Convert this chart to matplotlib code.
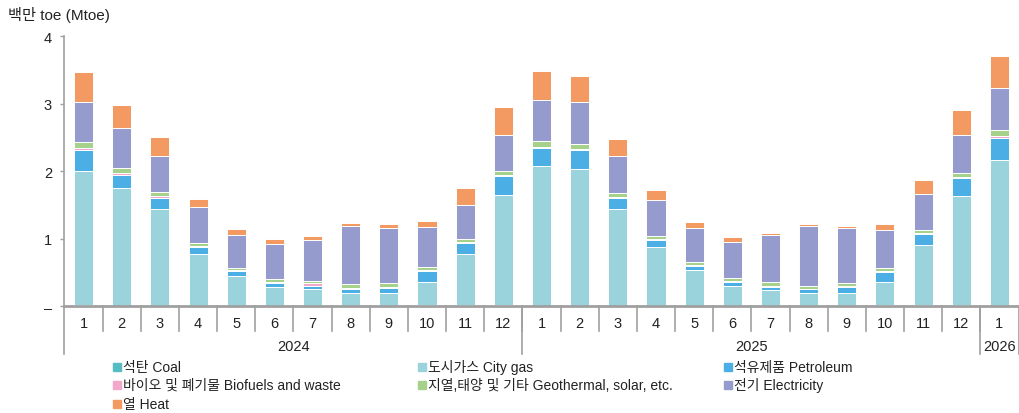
import matplotlib
matplotlib.use("Agg")
import matplotlib.pyplot as plt
from matplotlib.patches import Rectangle
import numpy as np

plt.rcParams["font.family"] = ["Liberation Sans", "Noto Sans CJK KR", "DejaVu Sans"]

months = ["1", "2", "3", "4", "5", "6", "7", "8", "9", "10", "11", "12",
          "1", "2", "3", "4", "5", "6", "7", "8", "9", "10", "11", "12", "1"]
years = ["2024", "2025", "2026"]
year_counts = [12, 12, 1]

coal = [0.02, 0.01, 0.01, 0.005, 0.005, 0.005, 0.005, 0.005, 0.005, 0.02, 0.02, 0.02,
        0.01, 0.01, 0.01, 0.005, 0.005, 0.005, 0.005, 0.005, 0.005, 0.02, 0.02, 0.02, 0.01]
city_gas = [1.98, 1.74, 1.43, 0.77, 0.445, 0.28, 0.25, 0.19, 0.19, 0.335, 0.755, 1.63,
            2.07, 2.02, 1.43, 0.873, 0.528, 0.30, 0.24, 0.192, 0.192, 0.34, 0.893, 1.614, 2.16]
petroleum = [0.32, 0.20, 0.17, 0.108, 0.07, 0.064, 0.05, 0.064, 0.083, 0.173, 0.168, 0.28,
             0.26, 0.28, 0.163, 0.109, 0.069, 0.06, 0.045, 0.055, 0.089, 0.144, 0.163, 0.266, 0.322]
biofuels = [0.025, 0.02, 0.02, 0.01, 0.015, 0.015, 0.035, 0.015, 0.014, 0.01, 0.015, 0.015,
            0.02, 0.02, 0.02, 0.013, 0.015, 0.015, 0.015, 0.008, 0.014, 0.015, 0.014, 0.016, 0.025]
geothermal = [0.085, 0.08, 0.063, 0.045, 0.03, 0.04, 0.03, 0.05, 0.05, 0.044, 0.034, 0.055,
              0.09, 0.075, 0.06, 0.041, 0.039, 0.039, 0.05, 0.04, 0.045, 0.044, 0.036, 0.059, 0.093]
electricity = [0.59, 0.585, 0.534, 0.529, 0.498, 0.524, 0.617, 0.864, 0.824, 0.598, 0.514, 0.543,
               0.61, 0.618, 0.543, 0.539, 0.50, 0.538, 0.697, 0.885, 0.811, 0.563, 0.533, 0.558, 0.618]
heat = [0.455, 0.345, 0.286, 0.123, 0.084, 0.064, 0.054, 0.044, 0.054, 0.084, 0.246, 0.41,
        0.425, 0.385, 0.246, 0.148, 0.093, 0.065, 0.038, 0.034, 0.039, 0.098, 0.212, 0.371, 0.478]

series = [
    ("석탄 Coal", coal, "#55bcc2"),
    ("도시가스 City gas", city_gas, "#9ad3dc"),
    ("석유제품 Petroleum", petroleum, "#4baee5"),
    ("바이오 및 폐기물 Biofuels and waste", biofuels, "#f2a7cb"),
    ("지열,태양 및 기타 Geothermal, solar, etc.", geothermal, "#a6d18a"),
    ("전기 Electricity", electricity, "#959bcc"),
    ("열 Heat", heat, "#f29a62"),
]

W, H = 1020, 414
fig = plt.figure(figsize=(W / 100, H / 100), dpi=100)
ax_l, ax_r, ax_t, ax_b = 64.5, 1018.5, 37.3, 307.3
ax = fig.add_axes([ax_l / W, 1 - ax_b / H, (ax_r - ax_l) / W, (ax_b - ax_t) / H])

x = np.arange(len(months))
bottom = np.zeros(len(months))
for label, vals, color in series:
    vals = np.array(vals)
    ax.bar(x, vals, width=0.5, bottom=bottom, color=color, edgecolor="white", linewidth=0.7)
    bottom += vals

grey = "#a0a0a0"
txt = "#222222"
ax.set_xlim(-0.5, len(months) - 0.5)
ax.set_ylim(0, 4)
ax.set_yticks([0, 1, 2, 3, 4])
ax.set_yticklabels(["–", "1", "2", "3", "4"], fontsize=10.5, color=txt)
ax.tick_params(axis="y", length=3, color=grey, width=1, pad=6)
ax.set_xticks(x)
ax.set_xticklabels(months, fontsize=10.5, color=txt)
ax.tick_params(axis="x", length=0, pad=7)
for s in ["top", "right"]:
    ax.spines[s].set_visible(False)
ax.spines["left"].set_color(grey)
ax.spines["left"].set_linewidth(1.2)
ax.spines["bottom"].set_color(grey)
ax.spines["bottom"].set_linewidth(2)

# category axis separators
axh = ax_b - ax_t
trans = ax.get_xaxis_transform()
month_drop = -25 / axh
year_drop = -48 / axh
for i in range(len(months) - 1):
    ax.plot([i + 0.5, i + 0.5], [0, month_drop], transform=trans, color=grey, lw=1.2, clip_on=False)
edges = np.concatenate([[0], np.cumsum(year_counts)]) - 0.5
for e in edges:
    ax.plot([e, e], [0, year_drop], transform=trans, color=grey, lw=1.2, clip_on=False)
for yr, a, b in zip(years, edges[:-1], edges[1:]):
    ax.text((a + b) / 2, -40 / axh, yr, transform=trans, ha="center", va="center",
            fontsize=10.5, color=txt)

fig.text(8 / W, 1 - 15 / H, "백만 toe (Mtoe)", fontsize=11, va="center", ha="left", color=txt)

# legend
col_x = [113, 418, 724]
row_y = [368, 386, 405]
sq = 8
for k, (label, vals, color) in enumerate(series):
    r, c = divmod(k, 3)
    fig.patches.append(Rectangle((col_x[c] / W, 1 - (row_y[r] + sq / 2) / H), sq / W, sq / H,
                                 transform=fig.transFigure, color=color, figure=fig))
    fig.text((col_x[c] + sq + 2) / W, 1 - row_y[r] / H, label, fontsize=10,
             va="center", ha="left", color=txt)

fig.savefig("out.png", dpi=100)
